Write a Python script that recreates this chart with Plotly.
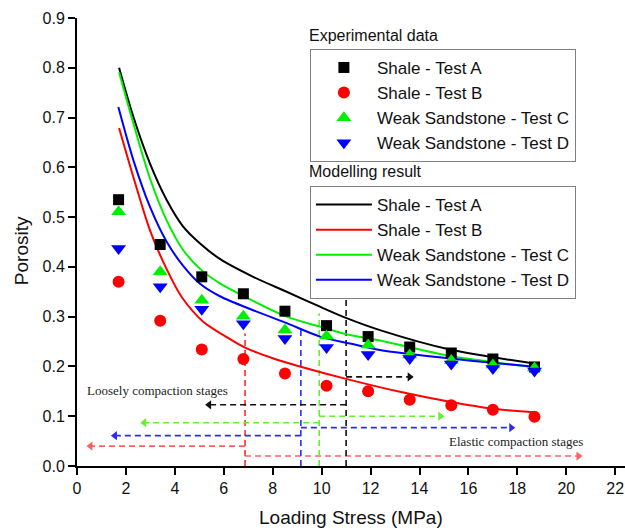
import plotly.graph_objects as go

# ---------------- data ----------------
stress = [1.7, 3.4, 5.1, 6.8, 8.5, 10.2, 11.9, 13.6, 15.3, 17.0, 18.7]
exp_a = [0.535, 0.445, 0.380, 0.346, 0.311, 0.282, 0.260, 0.239, 0.227, 0.215, 0.199]
exp_b = [0.370, 0.292, 0.234, 0.215, 0.186, 0.161, 0.150, 0.133, 0.122, 0.113, 0.099]
exp_c = [0.511, 0.390, 0.333, 0.301, 0.273, 0.261, 0.243, 0.223, 0.212, 0.203, 0.197]
exp_d = [0.437, 0.360, 0.315, 0.286, 0.256, 0.238, 0.224, 0.216, 0.205, 0.196, 0.191]

mod_a_x = [1.72, 2.30, 2.98, 3.66, 4.34, 5.03, 5.84, 7.2, 8.57, 9.93, 11.02, 12.38, 15.24, 18.8]
mod_a_y = [0.800, 0.702, 0.608, 0.535, 0.481, 0.447, 0.416, 0.380, 0.350, 0.320, 0.297, 0.273, 0.234, 0.205]
mod_b_x = [1.72, 2.30, 2.98, 3.66, 4.30, 5.16, 6.12, 6.87, 8.03, 9.11, 11.0, 13.2, 15.24, 17.0, 18.72]
mod_b_y = [0.679, 0.581, 0.474, 0.396, 0.338, 0.290, 0.259, 0.238, 0.216, 0.200, 0.175, 0.149, 0.129, 0.115, 0.108]
mod_c_x = [1.72, 2.30, 2.98, 3.66, 4.34, 5.03, 5.84, 6.87, 8.57, 9.93, 11.16, 12.38, 15.24, 18.8]
mod_c_y = [0.791, 0.689, 0.578, 0.494, 0.434, 0.396, 0.367, 0.340, 0.300, 0.280, 0.263, 0.252, 0.221, 0.198]
mod_d_x = [1.69, 2.30, 2.98, 3.66, 4.34, 5.03, 5.84, 7.2, 8.57, 9.93, 11.16, 12.38, 15.24, 18.8]
mod_d_y = [0.721, 0.615, 0.521, 0.451, 0.402, 0.366, 0.341, 0.313, 0.287, 0.260, 0.246, 0.233, 0.216, 0.199]

names = ["Shale - Test A", "Shale - Test B", "Weak Sandstone - Test C", "Weak Sandstone - Test D"]
colors = ["#000000", "#ff0000", "#00ee00", "#0000ff"]
symbols = ["square", "circle", "triangle-up", "triangle-down"]

# stage boundaries (order: B red, D blue, C green, A black)
stage_x = [6.87, 9.15, 9.9, 11.0]
stage_top = [0.266, 0.28, 0.307, 0.335]
left_y = [0.040, 0.061, 0.087, 0.123]
left_end = [0.55, 1.55, 2.75, 5.4]
right_y = [0.020, 0.077, 0.100, 0.179]
right_end = [20.5, 17.75, 14.85, 13.6]
stage_vcolors = ["#ff2a2a", "#2a2aff", "#66ee33", "#111111"]
stage_acolors = ["#ff6060", "#2a2aff", "#66ee33", "#111111"]

FONT = "Liberation Sans, Arial, sans-serif"

fig = go.Figure()

# stage guide lines
for i in range(4):
    fig.add_trace(go.Scatter(x=[stage_x[i], stage_x[i]], y=[0, stage_top[i]], mode="lines",
                             line=dict(color=stage_vcolors[i], width=1.6, dash="6px,4px"),
                             showlegend=False, hoverinfo="skip"))
    fig.add_trace(go.Scatter(x=[stage_x[i], left_end[i]], y=[left_y[i], left_y[i]], mode="lines",
                             line=dict(color=stage_acolors[i], width=1.6, dash="6px,4px"),
                             showlegend=False, hoverinfo="skip"))
    fig.add_trace(go.Scatter(x=[left_end[i]], y=[left_y[i]], mode="markers",
                             marker=dict(symbol="triangle-left", size=8, color=stage_acolors[i]),
                             showlegend=False, hoverinfo="skip"))
    fig.add_trace(go.Scatter(x=[stage_x[i], right_end[i]], y=[right_y[i], right_y[i]], mode="lines",
                             line=dict(color=stage_acolors[i], width=1.6, dash="6px,4px"),
                             showlegend=False, hoverinfo="skip"))
    fig.add_trace(go.Scatter(x=[right_end[i]], y=[right_y[i]], mode="markers",
                             marker=dict(symbol="triangle-right", size=8, color=stage_acolors[i]),
                             showlegend=False, hoverinfo="skip"))

# modelling curves
mods = [(mod_a_x, mod_a_y), (mod_b_x, mod_b_y), (mod_c_x, mod_c_y), (mod_d_x, mod_d_y)]
for i, (mx, my) in enumerate(mods):
    fig.add_trace(go.Scatter(x=mx, y=my, mode="lines", name=names[i],
                             line=dict(color=colors[i], width=2, shape="spline", smoothing=0.8),
                             legend="legend2"))

# experimental points
exps = [exp_a, exp_b, exp_c, exp_d]
msize = [11, 12, 13, 13]
for i, ey in enumerate(exps):
    fig.add_trace(go.Scatter(x=stress, y=ey, mode="markers", name=names[i],
                             marker=dict(symbol=symbols[i], size=msize[i], color=colors[i]),
                             legend="legend"))

legend_common = dict(xanchor="left", yanchor="top", bgcolor="white",
                     bordercolor="#808080", borderwidth=1, itemwidth=56,
                     font=dict(family=FONT, size=17, color="#111111"),
                     traceorder="normal")

fig.update_layout(
    width=625, height=531,
    margin=dict(l=77, r=0, t=18, b=65),
    paper_bgcolor="white", plot_bgcolor="white",
    font=dict(family=FONT, size=16, color="#111111"),
    legend=dict(x=0.425, y=0.931, **legend_common),
    legend2=dict(x=0.425, y=0.625, **legend_common),
    xaxis=dict(range=[0, 22.4], tickvals=list(range(0, 23, 2)), showgrid=False, zeroline=False,
               showline=True, linecolor="black", linewidth=2, ticks="outside", ticklen=7,
               tickwidth=2, tickcolor="black", tickfont=dict(size=16)),
    yaxis=dict(range=[0, 0.9], tickvals=[0, 0.1, 0.2, 0.3, 0.4, 0.5, 0.6, 0.7, 0.8, 0.9],
               tickformat=".1f", showgrid=False, zeroline=False,
               showline=True, linecolor="black", linewidth=2, ticks="outside", ticklen=7,
               tickwidth=2, tickcolor="black", tickfont=dict(size=16)),
    annotations=[
        dict(text="Loading Stress (MPa)", xref="paper", yref="paper", x=0.5, y=-0.114,
             showarrow=False, font=dict(size=19), xanchor="center", yanchor="middle"),
        dict(text="Porosity", xref="paper", yref="paper", x=-0.1, y=0.48, textangle=-90,
             showarrow=False, font=dict(size=19), xanchor="center", yanchor="middle"),
        dict(text="Experimental data", xref="paper", yref="paper", x=0.42, y=0.96,
             showarrow=False, font=dict(size=16), xanchor="left", yanchor="middle"),
        dict(text="Modelling result", xref="paper", yref="paper", x=0.42, y=0.658,
             showarrow=False, font=dict(size=16), xanchor="left", yanchor="middle"),
        dict(text="Loosely compaction stages", x=3.31, y=0.152, showarrow=False,
             font=dict(family="Liberation Serif, Times New Roman, serif", size=13, color="#222222")),
        dict(text="Elastic compaction stages", x=17.94, y=0.050, showarrow=False,
             font=dict(family="Liberation Serif, Times New Roman, serif", size=13, color="#222222")),
    ],
)

fig.write_html("out.html")
